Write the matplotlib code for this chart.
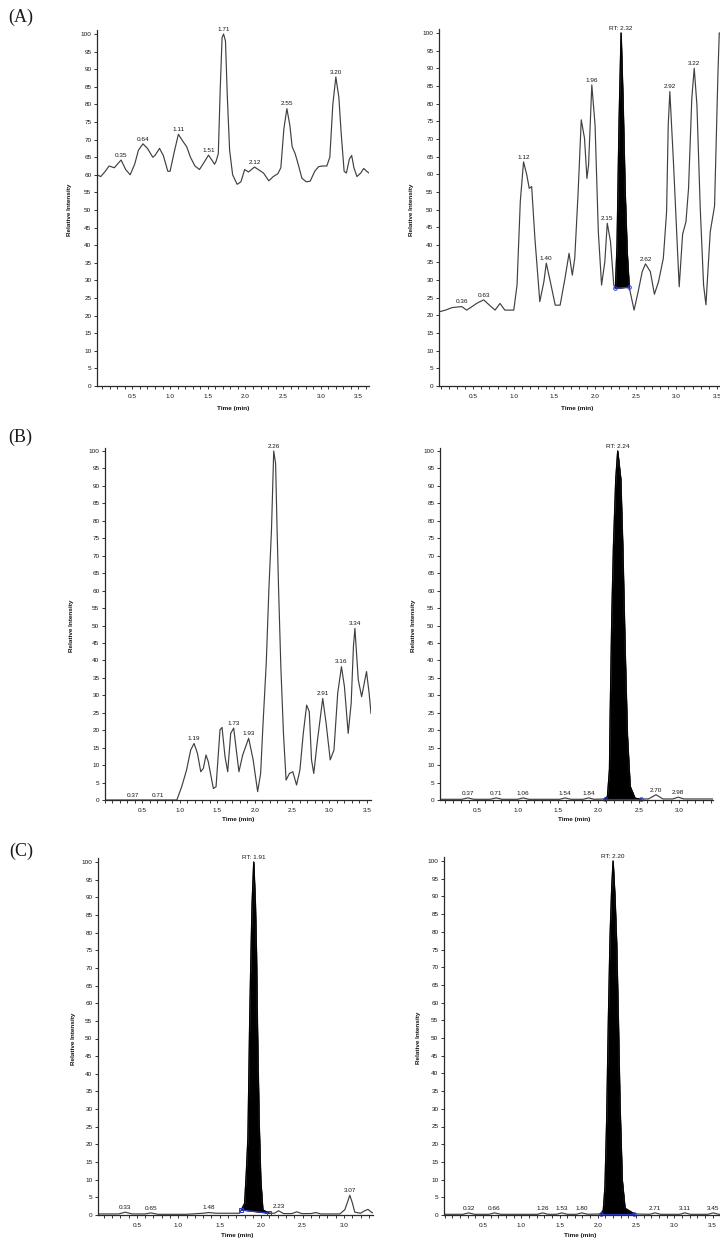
import numpy as np
import matplotlib

matplotlib.use("Agg")
import matplotlib.pyplot as plt
from matplotlib.ticker import MultipleLocator

plt.rcParams["font.family"] = ["Liberation Sans", "DejaVu Sans"]

W, H = 720, 1240

# ---------- (A) left: blank plasma ----------
a1_t = [0.03, 0.08, 0.14, 0.19, 0.26, 0.30, 0.35, 0.41, 0.47, 0.53, 0.58, 0.64,
        0.70, 0.77, 0.80, 0.86, 0.91, 0.97, 1.00, 1.05, 1.11, 1.17, 1.22, 1.27,
        1.33, 1.39, 1.45, 1.51, 1.56, 1.59, 1.61, 1.64, 1.665, 1.69, 1.71, 1.735,
        1.76, 1.79, 1.83, 1.89, 1.94, 1.99, 2.04, 2.08, 2.12, 2.17, 2.24, 2.31,
        2.37, 2.43, 2.47, 2.51, 2.55, 2.59, 2.62, 2.66, 2.70, 2.75, 2.81, 2.86,
        2.92, 2.97, 3.02, 3.08, 3.12, 3.16, 3.20, 3.24, 3.27, 3.31, 3.34, 3.38,
        3.41, 3.44, 3.48, 3.53, 3.57, 3.61, 3.64]
a1_y = [60, 59.5, 61, 62.5, 62, 63, 64.2, 61.5, 60, 63, 67, 68.8,
        67.5, 65, 65.5, 67.5, 65.5, 61, 61, 66, 71.5, 69.5, 68, 65,
        62.5, 61.5, 63.5, 65.6, 64, 63, 63.8, 66, 84, 99, 100, 98,
        82, 67, 60, 57.3, 58, 61.5, 60.8, 61.5, 62.2, 61.5, 60.5, 58.3,
        59.5, 60.3, 62, 73, 78.8, 74, 68, 66, 63, 59, 58, 58.2,
        61, 62.3, 62.5, 62.5, 65, 80, 87.8, 82, 72, 61, 60.5, 64.5,
        65.5, 62, 59.5, 60.5, 61.8, 61, 60.5]
a1_lab_t = [0.35, 0.64, 1.11, 1.51, 1.71, 2.12, 2.55, 3.20]
a1_lab = ["0.35", "0.64", "1.11", "1.51", "1.71", "2.12", "2.55", "3.20"]

# ---------- (A) right ----------
a2_t = [0.08, 0.16, 0.24, 0.36, 0.42, 0.48, 0.55, 0.63, 0.71, 0.77, 0.83, 0.89,
        1.00, 1.04, 1.08, 1.12, 1.16, 1.19, 1.22, 1.26, 1.32, 1.37, 1.40, 1.45,
        1.51, 1.57, 1.63, 1.68, 1.72, 1.75, 1.79, 1.83, 1.87, 1.90, 1.92, 1.94,
        1.96, 2.00, 2.04, 2.08, 2.12, 2.15, 2.19, 2.23, 2.25, 2.27, 2.295, 2.32,
        2.345, 2.37, 2.395, 2.42, 2.48, 2.53, 2.58, 2.62, 2.68, 2.73, 2.78, 2.84,
        2.88, 2.90, 2.92, 2.966, 3.007, 3.035, 3.077, 3.118, 3.15, 3.19, 3.22,
        3.253, 3.294, 3.335, 3.364, 3.417, 3.47, 3.511, 3.528, 3.60, 3.66]
a2_y = [21.0, 21.5, 22.2, 22.5, 21.5, 22.4, 23.5, 24.4, 22.7, 21.5, 23.4, 21.5,
        21.5, 28.6, 52.2, 63.5, 59.8, 56.0, 56.5, 41.8, 23.9, 29.5, 34.8, 29.5,
        22.9, 22.9, 30.5, 37.6, 31.4, 36.2, 54.1, 75.4, 70.2, 58.8, 62.6, 73.9,
        85.3, 73.9, 43.7, 28.6, 35.2, 46.1, 40.9, 28.6, 27.7, 40, 75, 100,
        80, 55, 38, 28.0, 21.5, 26.7, 32.4, 34.6, 32.4, 26.0, 29.5, 36.2,
        49.4, 73.9, 83.4, 62.6, 42.0, 28.1, 43.0, 46.5, 56, 81.5, 90,
        79.6, 50.3, 28.6, 23.0, 43.7, 51, 88, 100, 100, 100]
a2_lab_t = [0.36, 0.63, 1.12, 1.40, 1.96, 2.15, 2.32, 2.62, 2.92, 3.22]
a2_lab = ["0.36", "0.63", "1.12", "1.40", "1.96", "2.15", "RT: 2.32", "2.62",
          "2.92", "3.22"]
a2_int = [2.25, 2.42]

# ---------- (B) left ----------
b1_t = [0.00, 0.96, 1.025, 1.09, 1.145, 1.19, 1.235, 1.28, 1.315, 1.35, 1.38,
        1.448, 1.484, 1.537, 1.564, 1.604, 1.64, 1.68, 1.72, 1.76, 1.79, 1.84,
        1.92, 1.98, 2.04, 2.08, 2.11, 2.155, 2.19, 2.225, 2.255, 2.28, 2.30,
        2.32, 2.35, 2.385, 2.42, 2.465, 2.51, 2.56, 2.605, 2.65, 2.695, 2.73,
        2.76, 2.79, 2.84, 2.91, 2.955, 3.01, 3.06, 3.11, 3.16, 3.20, 3.25,
        3.29, 3.32, 3.34, 3.385, 3.43, 3.495, 3.53, 3.555]
b1_y = [0, 0, 3.8, 8.6, 14.3, 16.2, 13.4, 8.1, 9.1, 12.9, 11,
        3.3, 3.8, 20.1, 20.8, 12.4, 8.1, 19.1, 20.6, 13.4, 8.1, 12.9,
        17.7, 11.5, 2.4, 7.6, 21, 39.2, 60.2, 77.4, 100, 96.4, 77.4,
        60.2, 38.2, 19.1, 5.7, 7.6, 8.1, 4.3, 8.6, 19.1, 27.2, 25.3,
        11.5, 7.6, 17.2, 29.1, 22, 11.5, 14.3, 30.6, 38.2, 32.5, 19.1,
        27.7, 43.9, 49.2, 34.4, 29.6, 36.8, 30.6, 24.8]
b1_lab_t = [0.37, 0.71, 1.19, 1.72, 1.92, 2.255, 2.91, 3.16, 3.34]
b1_lab = ["0.37", "0.71", "1.19", "1.73", "1.93", "2.26", "2.91", "3.16", "3.34"]

# ---------- (B) right ----------
b2_t = [0.04, 0.31, 0.385, 0.46, 0.66, 0.735, 0.81, 1.00, 1.07, 1.14, 1.52,
        1.59, 1.66, 1.81, 1.88, 1.95, 2.08, 2.113, 2.138, 2.146, 2.167, 2.187,
        2.216, 2.24, 2.278, 2.303, 2.332, 2.36, 2.394, 2.455, 2.525, 2.62,
        2.715, 2.80, 2.92, 2.99, 3.06, 3.42]
b2_y = [0.2, 0.2, 0.6, 0.2, 0.2, 0.6, 0.2, 0.2, 0.6, 0.2, 0.2,
        0.6, 0.2, 0.2, 0.6, 0.2, 0.3, 1.0, 8.8, 23.5, 53, 72.5,
        92, 100, 92, 72.5, 43, 18.6, 3.9, 0.5, 0.3, 0.3,
        1.5, 0.3, 0.3, 0.8, 0.3, 0.3]
b2_lab_t = [0.385, 0.735, 1.07, 1.59, 1.88, 2.24, 2.715, 2.99]
b2_lab = ["0.37", "0.71", "1.06", "1.54", "1.84", "RT: 2.24", "2.70", "2.98"]
b2_int = [2.08, 2.525]

# ---------- (C) left ----------
c1_t = [0.03, 0.28, 0.36, 0.44, 0.60, 0.67, 0.75, 1.10, 1.30, 1.37, 1.45,
        1.74, 1.80, 1.82, 1.84, 1.86, 1.875, 1.89, 1.91, 1.93, 1.943, 1.955,
        1.975, 1.995, 2.02, 2.10, 2.16, 2.21, 2.27, 2.37, 2.43, 2.49, 2.60,
        2.66, 2.72, 2.95, 3.01, 3.04, 3.07, 3.10, 3.13, 3.20, 3.25, 3.29,
        3.33, 3.35]
c1_y = [0.3, 0.3, 0.8, 0.3, 0.3, 0.6, 0.2, 0.2, 0.5, 0.7, 0.5,
        0.5, 3.3, 11.8, 22, 53.3, 72.2, 88.2, 100, 88, 74, 53,
        26.4, 9.9, 1.4, 0.5, 0.5, 1.2, 0.4, 0.4, 0.9, 0.4, 0.4,
        0.7, 0.3, 0.3, 1.5, 3.5, 5.6, 3.5, 0.8, 0.5, 1.2, 1.6,
        0.8, 0.6]
c1_lab_t = [0.36, 0.67, 1.37, 1.91, 2.21, 3.07]
c1_lab = ["0.33", "0.65", "1.48", "RT: 1.91", "2.23", "3.07"]
c1_int = [1.76, 2.10]

# ---------- (C) right ----------
c2_t = [0.0, 0.24, 0.31, 0.39, 0.58, 0.65, 0.73, 1.21, 1.28, 1.35, 1.46,
        1.53, 1.60, 1.72, 1.79, 1.87, 2.04, 2.072, 2.094, 2.116, 2.138, 2.16,
        2.182, 2.20, 2.225, 2.247, 2.269, 2.29, 2.32, 2.356, 2.48, 2.68,
        2.75, 2.82, 3.07, 3.14, 3.21, 3.44, 3.51, 3.58, 3.65]
c2_y = [0.2, 0.2, 0.6, 0.2, 0.2, 0.6, 0.2, 0.2, 0.6, 0.2, 0.2,
        0.6, 0.2, 0.2, 0.6, 0.2, 0.3, 1.4, 8.0, 26.8, 54.9, 78.4,
        92.5, 100, 89.7, 76.5, 54.9, 31.5, 9.9, 1.9, 0.3, 0.2,
        0.6, 0.2, 0.2, 0.6, 0.2, 0.2, 0.6, 0.2, 0.2]
c2_lab_t = [0.31, 0.65, 1.28, 1.53, 1.79, 2.20, 2.75, 3.14, 3.51]
c2_lab = ["0.32", "0.66", "1.26", "1.53", "1.80", "RT: 2.20", "2.71", "3.11",
          "3.45"]
c2_int = [2.04, 2.48]

TRACE = "#404040"
INK = "#151515"
BLUE = "#2a3bd8"
SMALL = 4.6

fig = plt.figure(figsize=(W / 100, H / 100), dpi=100)


def panel(rect, xlim, t, y, lab_t, labels, integ=None, marker="o",
          ylab_x=0, time_xy=(0, 0)):
    x0, x1, y100, y0 = rect
    top = y100 - (y0 - y100) * 0.01
    ax = fig.add_axes([x0 / W, 1 - y0 / H, (x1 - x0) / W, (y0 - top) / H])
    ax.set_xlim(*xlim)
    ax.set_ylim(0, 101)
    t = np.asarray(t, float)
    y = np.asarray(y, float)
    ax.plot(t, y, color=TRACE, lw=0.85, solid_joinstyle="round")

    if integ is not None:
        ts, te = integ
        inside = (t > ts) & (t < te)
        tt = np.concatenate([[ts], t[inside], [te]])
        yy = np.interp(tt, t, y)
        base = np.interp(tt, [ts, te], [yy[0], yy[-1]])
        ax.fill_between(tt, base, yy, color="black", lw=0.4, edgecolor="black")
        ax.plot(tt, yy, color="black", lw=0.9)
        ax.plot([ts, te], [yy[0], yy[-1]], color=BLUE, lw=0.8,
                marker=marker, ms=2.6, mfc="none", mec=BLUE, mew=0.7,
                clip_on=False)

    for lt, txt in zip(lab_t, labels):
        near = np.abs(t - lt) <= 0.03
        peak = y[near].max() if near.any() else np.interp(lt, t, y)
        ax.annotate(txt, (lt, min(peak, 100)), xytext=(0, 1.6),
                    textcoords="offset points", ha="center", va="bottom",
                    fontsize=SMALL, color=INK, annotation_clip=False)

    for side in ("top", "right"):
        ax.spines[side].set_visible(False)
    for side in ("left", "bottom"):
        ax.spines[side].set_color("#2a2a2a")
        ax.spines[side].set_linewidth(0.9)

    ax.set_yticks(range(0, 101, 5))
    ax.set_yticklabels([str(v) for v in range(0, 101, 5)])
    majors = [v / 2 for v in range(1, 8) if xlim[0] < v / 2 < xlim[1]]
    ax.set_xticks(majors)
    ax.set_xticklabels([f"{v:.1f}" for v in majors])
    ax.xaxis.set_minor_locator(MultipleLocator(0.1))
    ax.tick_params(axis="both", which="major", labelsize=SMALL, length=2.4,
                   width=0.6, pad=1.6, colors=INK)
    ax.tick_params(axis="x", which="minor", length=1.8, width=0.6,
                   colors=INK)
    ax.tick_params(axis="x", which="major", pad=3.2)

    fig.text(ylab_x / W, 1 - (y100 + y0) / 2 / H, "Relative Intensity",
             rotation=90, ha="center", va="center", fontsize=SMALL,
             fontweight="bold", color=INK)
    fig.text(time_xy[0] / W, 1 - time_xy[1] / H, "Time (min)", ha="center",
             va="center", fontsize=SMALL, fontweight="bold", color=INK)
    return ax


panel((97, 369, 34, 386), (0.03, 3.64), a1_t, a1_y, a1_lab_t, a1_lab,
      ylab_x=70, time_xy=(233, 408))
panel((439, 730, 33, 386), (0.08, 3.66), a2_t, a2_y, a2_lab_t, a2_lab,
      integ=a2_int, ylab_x=412, time_xy=(577, 408))
panel((105, 371, 451, 800), (0.0, 3.555), b1_t, b1_y, b1_lab_t, b1_lab,
      ylab_x=72, time_xy=(238, 819))
panel((440, 713, 451, 800), (0.04, 3.42), b2_t, b2_y, b2_lab_t, b2_lab,
      integ=b2_int, ylab_x=413, time_xy=(574, 819))
panel((98, 373, 862, 1215), (0.03, 3.35), c1_t, c1_y, c1_lab_t, c1_lab,
      integ=c1_int, marker="s", ylab_x=73, time_xy=(237, 1236))
panel((444, 724, 861, 1215), (-0.01, 3.65), c2_t, c2_y, c2_lab_t, c2_lab,
      integ=c2_int, ylab_x=418, time_xy=(580, 1236))

for letter, (px, py) in zip(["(A)", "(B)", "(C)"],
                            [(8, 17), (8, 437), (9, 851)]):
    fig.text(px / W, 1 - py / H, letter, fontsize=13,
             family="Liberation Serif", ha="left", va="center", color="#1a1a1a")

fig.savefig("out.png", dpi=100)
